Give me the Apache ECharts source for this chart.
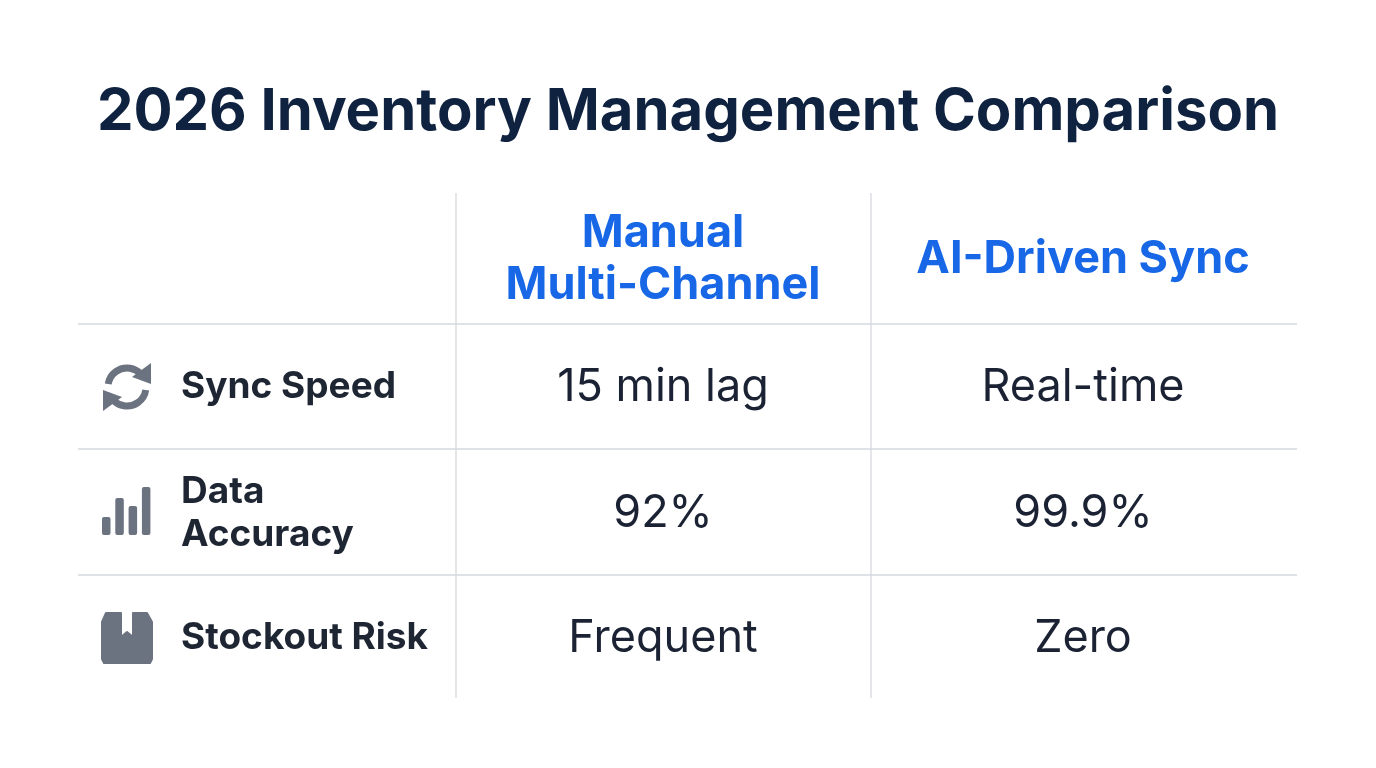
<!DOCTYPE html>
<html><head><meta charset="utf-8">
<script src="https://cdn.jsdelivr.net/npm/echarts@6/dist/echarts.min.js"></script>
<style>html,body{margin:0;padding:0;background:#fff}#c{width:1376px;height:768px}</style>
</head><body><div id="c"></div>
<script>
const title = '2026 Inventory Management Comparison';
const columns = ['Manual\nMulti-Channel', 'AI-Driven Sync'];
const rows = ['Sync Speed', 'Data\nAccuracy', 'Stockout Risk'];
const manualValues = ['15 min lag', '92%', 'Frequent'];
const aiValues = ['Real-time', '99.9%', 'Zero'];
const barIconHeights = [18, 37, 29, 48];

const chart = echarts.init(document.getElementById('c'));
const F = 'Inter, "Noto Sans", sans-serif';
const g = [];
const lineC = '#d5d8de', iconC = '#6b7280';
g.push({type:'text', x:688, y:113, style:{text:title, font:'bold 58px '+F, fill:'#0f2240', align:'center', verticalAlign:'middle'}});
const hY = [324, 449, 575];
hY.forEach(y => g.push({type:'line', shape:{x1:78,y1:y,x2:1297,y2:y}, style:{stroke:lineC,lineWidth:1.3}}));
[456, 871].forEach(x => g.push({type:'line', shape:{x1:x,y1:193,x2:x,y2:698}, style:{stroke:lineC,lineWidth:1.3}}));
const colX = [663, 1083];
columns.forEach((c,i) => g.push({type:'text', x:colX[i], y:259, style:{text:c, font:'bold 45px '+F, fill:'#1767e6', align:'center', verticalAlign:'middle', lineHeight:52}}));
const rowY = [387, 513, 638];
rows.forEach((r,i) => {
  g.push({type:'text', x:181, y:rowY[i], style:{text:r, font:'bold 37px '+F, fill:'#1f2633', align:'left', verticalAlign:'middle', lineHeight:43}});
  g.push({type:'text', x:colX[0], y:rowY[i], style:{text:manualValues[i], font:'45px '+F, fill:'#1a2233', align:'center', verticalAlign:'middle'}});
  g.push({type:'text', x:colX[1], y:rowY[i], style:{text:aiValues[i], font:'45px '+F, fill:'#1a2233', align:'center', verticalAlign:'middle'}});
});
// sync icon
g.push({type:'arc', shape:{cx:127,cy:387,r:19,startAngle:Math.PI*1.05,endAngle:Math.PI*1.75}, style:{stroke:iconC,lineWidth:7,fill:null}});
g.push({type:'arc', shape:{cx:127,cy:387,r:19,startAngle:Math.PI*0.05,endAngle:Math.PI*0.75}, style:{stroke:iconC,lineWidth:7,fill:null}});
g.push({type:'polygon', shape:{points:[[151,363],[151,384],[132,377]]}, style:{fill:iconC}});
g.push({type:'polygon', shape:{points:[[103,411],[103,390],[122,397]]}, style:{fill:iconC}});
// bar icon
barIconHeights.forEach((h,i) => g.push({type:'rect', shape:{x:102+i*13.3,y:535-h,width:8.5,height:h,r:2}, style:{fill:iconC}}));
// box icon
g.push({type:'polygon', shape:{points:[[106,613],[121,613],[121,637],[127,632],[133,637],[133,613],[147,613],[152,622],[152,659],[150,663],[104,663],[102,659],[102,622]]}, style:{fill:iconC, stroke:iconC, lineWidth:2, lineJoin:'round'}});
chart.setOption({graphic:{elements:g}});
</script></body></html>
